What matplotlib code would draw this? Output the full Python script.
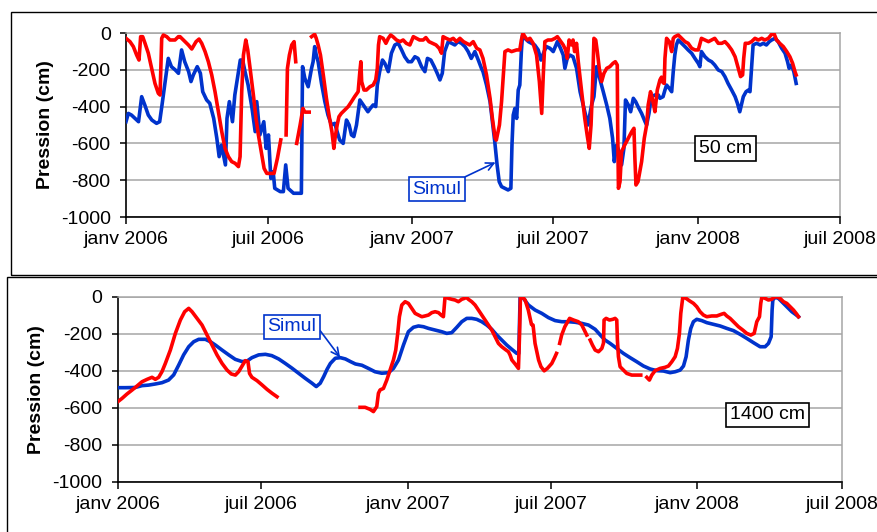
import numpy as np
import matplotlib
matplotlib.use("Agg")
import matplotlib.pyplot as plt
from matplotlib.patches import Rectangle

plt.rcParams['font.family'] = ['Liberation Sans', 'DejaVu Sans']
plt.rcParams['axes.unicode_minus'] = False

nan = np.nan

# x = days since 1 Jan 2006
tick_days = [0, 181, 365, 546, 730, 912]
tick_labels = ["janv 2006", "juil 2006", "janv 2007", "juil 2007", "janv 2008", "juil 2008"]
y_ticks = [-1000, -800, -600, -400, -200, 0]
y_labels = ["-1000", "-800", "-600", "-400", "-200", "0"]

# ---- 50 cm: simulated (blue)
sim50_days = [0, 3, 7, 11.5, 16, 20, 24, 28.5, 33, 39, 43, 46, 50, 54, 58, 63, 67, 71, 75, 80, 83, 86, 91, 95, 98,
              103, 107, 112, 116, 119, 122, 127, 129, 132, 136, 139, 141, 146, 149, 152, 156, 161, 165, 167, 171,
              176, 179, 182, 185, 188, 190, 197, 201, 204, 207, 214, 222, 224, 225.5, 228.4, 232.7, 237, 239, 241,
              243, 245.4, 249.7, 254, 258, 262.5, 266.7, 269.7, 273, 277.4, 281.6, 285, 288, 291, 294.4, 298.7, 303,
              306, 309, 312, 315.7, 319, 321, 324, 327.6, 330.6, 335, 339, 343.4, 347.7, 352, 356, 360.5, 364.7,
              369, 373, 377.5, 381.8, 385, 389.4, 393.7, 397.5, 401, 404, 407, 411.6, 416, 420, 424, 428.6, 433,
              437, 441, 445.6, 450, 454, 456, 460.5, 465, 468, 471, 474, 476.7, 479.7, 484, 488, 491.6, 493, 494.6,
              496.7, 499, 501, 503, 505, 506.5, 509.5, 514, 518, 522, 526.5, 530, 534, 537, 541.5, 545.7, 551, 555,
              558.5, 560.6, 563.6, 567, 571, 575.5, 580, 584, 588, 590, 594.7, 597.7, 601, 605, 609.6, 614, 618,
              621.5, 623.7, 626.7, 630, 633, 636, 638, 641.6, 644.6, 648, 651, 654, 658.6, 663, 665, 668, 671,
              675.6, 680, 682, 686, 688.4, 690.5, 694, 697, 699, 701, 703, 705.4, 709.7, 714, 718, 722.5, 726.7,
              731, 733, 735, 739.5, 744, 748, 752, 756.5, 761, 765, 769, 773.6, 778, 781, 784, 786, 788.5, 792,
              795, 797, 799, 801, 805.5, 810, 814, 818, 821.7, 824.7, 829, 833, 837.5, 841.8, 845, 847, 850, 853, 856]
sim50_vals = [-482, -437, -446, -464, -482, -346, -391, -446, -473, -491, -482, -391, -264, -138, -183, -201, -219,
              -92, -156, -210, -264, -228, -183, -219, -319, -364, -382, -464, -572, -672, -609, -717, -464, -373,
              -482, -337, -283, -147, -147, -210, -283, -410, -536, -373, -554, -482, -627, -554, -790, -754, -844,
              -862, -862, -717, -844, -871, -871, -871, -183, -246, -292, -192, -156, -74, -120, -156, -274, -373,
              -446, -500, -491, -536, -582, -600, -473, -500, -554, -563, -500, -364, -391, -410, -428, -410, -391,
              -400, -283, -210, -147, -165, -210, -110, -65, -56, -92, -129, -156, -156, -129, -138, -183, -210,
              -138, -147, -183, -219, -255, -219, -101, -47, -56, -65, -47, -56, -74, -101, -138, -101, -147, -192,
              -210, -283, -373, -482, -590, -717, -808, -835, -844, -853, -844, -609, -446, -410, -464, -310, -283,
              -101, -11, -29, -47, -56, -65, -92, -147, -101, -74, -83, -101, -47, -83, -120, -192, -138, -120,
              -129, -192, -319, -391, -464, -500, -391, -346, -183, -246, -319, -391, -464, -572, -699, -609, -645,
              -717, -627, -364, -391, -428, -355, -373, -400, -437, -482, -500, -437, -346, -337, -337, -355, -346,
              -310, -283, -301, -319, -210, -120, -65, -38, -56, -74, -92, -110, -138, -165, -183, -101, -129, -147,
              -156, -174, -201, -210, -237, -274, -310, -346, -382, -428, -391, -346, -319, -310, -319, -192, -65,
              -56, -65, -56, -65, -47, -38, -29, -47, -83, -110, -156, -192, -174, -210, -274]

# ---- 50 cm: measured (red), NaN = gap
obs50_days = [0, 5.1, 9.4, 13.6, 16.6, 18.7, 21.3, 24.3, 28.5, 32.8, 37, 41.3, 43.5, 45.6, 47.7, 52, 56.2, 62.6,
              66.9, 69, 73.3, 79.7, 84, 89.5, 93.3, 96.7, 101, 105.2, 109.5, 113.7, 118, 122.3, 126.5, 130.8, 135,
              139.3, 143.6, 145.7, 147.8, 150, 153, 155.5, 158.5, 162.7, 166.1, 169.1, 173.4, 176.4, 179.8, 186.2,
              189.1, 193.4, 197.7, 201,
              204.5, 206.2, 208.7, 211.7, 214.7, 216.8, 217.4,
              218, 222.4, 226, 228.5, 234, 235.5,
              237, 241, 243, 245.4, 248.4, 252, 256, 260, 263, 265.5, 267, 269.7, 272, 275, 279.5, 283.8, 288, 292,
              296.5, 298.7, 300, 301, 304, 307, 311.5, 315.7, 319, 321, 322.5, 324, 328.5, 332, 335, 338, 341,
              345.5, 350, 354, 358, 362.6, 367, 371, 375, 379.6, 383, 387, 391.5, 396, 400, 403, 405, 409, 413.7,
              418, 422, 426.5, 431, 435, 439, 443.5, 448, 452, 456, 460.5, 465, 468, 471.5, 473, 477, 479.7, 482,
              484, 488, 492.5, 499, 503, 505, 507, 509.5, 512.5, 516, 520, 524.4, 528, 531, 533, 535, 539, 543.6,
              548, 551, 554, 558.5, 561.5, 563.6, 566, 569, 571, 573, 575.5, 577.7, 582, 586, 589, 591.7, 594, 596,
              597.7, 600, 602, 604.5, 607.5, 610.5, 614, 618, 622, 625, 627.5, 628, 629, 631, 633, 637, 641.6, 646,
              648.8, 650, 651.4, 654, 658.6, 662, 665, 667, 670, 672.7, 675.6, 678.6, 682, 684, 686, 687.5, 688.4,
              690.5, 694, 697, 699, 701, 705.4, 709.7, 714, 718, 722.5, 726.7, 731, 735, 739.5, 744, 748, 752,
              756.5, 761, 765, 769, 773.6, 778, 782, 785, 787.6, 789, 791, 795, 799, 803.4, 807.7, 812, 816, 820.5,
              824.7, 827.6, 831, 835, 839.6, 844, 848, 851.5, 854.5, 856]
obs50_vals = [-29, -47, -74, -120, -147, -20, -20, -56, -110, -192, -274, -328, -337, -29, -11, -20, -38, -38, -20,
              -20, -38, -65, -87, -47, -33, -56, -101, -156, -228, -319, -428, -536, -627, -672, -699, -708, -726,
              -672, -319, -120, -38, -92, -192, -337, -464, -554, -663, -736, -763, -763, -763, -681, -581, nan,
              -554, -192, -120, -65, -47, -156, nan,
              -600, -500, -410, -430, -430, nan,
              -20, -7, -29, -65, -120, -228, -355, -464, -536, -627, -572, -500, -455, -437, -418, -400, -373, -346,
              -319, -210, -156, -264, -310, -310, -292, -283, -255, -192, -65, -20, -29, -56, -29, -11, -20, -38,
              -47, -38, -56, -65, -20, -29, -38, -38, -25, -47, -56, -65, -83, -110, -20, -29, -38, -29, -47, -29,
              -47, -56, -65, -47, -83, -92, -138, -228, -355, -464, -572, -582, -500, -373, -228, -101, -92, -101,
              -92, -92, -38, -2, -20, -38, -29, -56, -120, -264, -437, -228, -47, -38, -38, -29, -20, -38, -65, -92,
              -138, -38, -65, -38, -101, -56, -156, -319, -464, -554, -627, -500, -283, -29, -38, -101, -192, -264,
              -219, -192, -183, -165, -156, -174, -500, -844, -808, -645, -609, -572, -536, -518, -681, -826, -808,
              -699, -572, -500, -391, -319, -364, -428, -310, -255, -240, -270, -274, -138, -29, -47, -101, -29, -20,
              -11, -29, -47, -56, -83, -92, -92, -29, -38, -47, -38, -29, -56, -56, -47, -65, -92, -129, -192, -237,
              -228, -138, -56, -56, -47, -29, -38, -29, -38, -29, -7, -2, -38, -56, -74, -101, -129, -165, -210, -228]

# ---- 1400 cm: simulated (blue)
sim1400_days = [0, 9.6, 22, 30.6, 39, 47.4, 55.8, 64, 70.5, 76.8, 83, 89.4, 95.7, 102, 110.4, 116.7, 123, 131.4,
                139.8, 148, 156.5, 163, 169, 177.5, 186, 194, 202.7, 211, 219.5, 228, 236, 244.7, 250, 255, 259.4,
                263.6, 267.8, 274, 280.4, 286.7, 293, 299.3, 307.5, 315.7, 324, 332.5, 340.9, 347.2, 353.5, 359.8,
                366, 372.4, 378.7, 385, 391.3, 399.7, 408, 414.3, 420.6, 427, 433.2, 439.5, 445.8, 452, 458.4,
                464.7, 471, 477.3, 483.6, 489.9, 496.2, 502.5, 505, 506.7, 510.9, 517.2, 525.6, 534, 542.4, 550.8,
                559.2, 567.6, 576, 584.4, 592.8, 601.2, 609.6, 613.7, 620, 628.4, 636.8, 645.2, 653.6, 662, 670.4,
                678.8, 687.2, 695.6, 701.9, 708.2, 712.4, 715.7, 718.6, 721.6, 724.9, 729.1, 735.4, 741.7, 750.1,
                758.5, 766.9, 775.3, 783.7, 792.1, 800.5, 808.9, 815.2, 819.4, 822.8, 824, 824.9, 827.8, 832, 836.2,
                840.4, 844.6, 848.8, 853, 857.2]
sim1400_vals = [-491, -491, -490, -480, -477, -471, -464, -450, -422, -369, -314, -270, -243, -230, -230, -243, -261,
                -288, -314, -338, -350, -347, -329, -314, -311, -318, -336, -360, -386, -414, -440, -467, -485, -467,
                -431, -392, -360, -332, -329, -336, -350, -363, -370, -387, -405, -413, -410, -387, -342, -261, -189,
                -165, -158, -162, -171, -180, -189, -198, -194, -165, -135, -117, -117, -122, -135, -153, -176, -207,
                -234, -261, -284, -306, -306, -3, -9, -45, -72, -90, -113, -129, -135, -135, -138, -144, -153, -176,
                -216, -234, -252, -279, -306, -329, -351, -374, -390, -399, -401, -410, -405, -396, -374, -324, -234,
                -171, -135, -122, -129, -140, -149, -158, -171, -183, -203, -225, -248, -270, -270, -252, -216, -72,
                -18, -3, -9, -27, -45, -63, -81, -94, -108]

# ---- 1400 cm: measured (red), NaN = gap
obs1400_days = [0, 5.4, 11.7, 18, 24.3, 30.6, 37, 43.2, 47.4, 51.6, 55.8, 60, 66.3, 72.6, 78.9, 84.3, 89.4, 93.6,
                99.9, 106.2, 112.5, 118.8, 125, 131.4, 137.7, 143, 148.2, 152.4, 157.4, 160.7, 164, 166, 169, 175.4,
                181.7, 188, 194.3, 200.6, 250,
                305.2, 311.5, 317.8, 322, 326.2, 328.3, 330.4, 334.6, 338.8, 343, 347.2, 350.1, 352.6, 354.7, 357.7,
                361.9, 366, 370.3, 374.5, 378.7, 382.9, 387, 391.3, 395.5, 399.7, 403.9, 407.2, 410.1, 412.2, 416.4,
                420.6, 424.8, 429, 433.2, 436.6, 438.3, 441.6, 445.8, 450, 454.2, 458.4, 462.6, 466.8, 471, 475.2,
                479.4, 483.6, 487.8, 492, 494.1, 496.2, 500.4, 504.6, 505.9, 507.1, 509.6, 513, 517, 521, 523, 525.5,
                530, 533, 537, 541, 546.6, 550, 552.5, 554.5,
                556.5, 559, 563, 569, 574, 580, 584.4, 588.5, 590.6, 592.5,
                594.9, 597.8, 601.2, 605.4, 609.6, 611.7, 612.4, 615, 619.2, 623.4, 626.3, 628.4, 629.2, 630.5,
                632.6, 636.8, 641, 647.3, 653.6, 658.6, 662,
                666.2, 669.5, 672.5, 676.7, 683, 689.3, 693.5, 697.7, 701.9, 704.8, 707.3, 709, 711.5, 715.7, 719.9,
                725, 729.1, 733.3, 737.5, 741.7, 748, 754.3, 760.6, 763.6, 766.9, 771.1, 775.3, 781.6, 787.1, 792.1,
                797.2, 801.4, 804.7, 808.1, 809.7, 811, 815.2, 819.4, 823.6, 826.5, 829.9, 834, 838.3, 842.5, 846.7,
                850.9, 855, 857.2]
obs1400_vals = [-567, -549, -525, -504, -482, -459, -446, -435, -446, -435, -404, -360, -288, -198, -126, -81, -63,
                -81, -117, -153, -207, -261, -314, -360, -396, -417, -423, -404, -369, -345, -350, -414, -435, -453,
                -476, -500, -521, -540, nan,
                -597, -597, -608, -620, -593, -521, -503, -495, -450, -395, -341, -288, -198, -108, -45, -27, -36,
                -63, -90, -99, -108, -104, -99, -86, -81, -86, -99, -108, 0, -9, -14, -18, -27, -14, -9, 0, -14, -27,
                -45, -72, -99, -126, -153, -180, -216, -252, -270, -284, -297, -315, -341, -363, -387, -216, -3, 0,
                -18, -72, -150, -153, -252, -342, -378, -400, -387, -360, -330, -306, nan,
                -252, -207, -162, -117, -126, -135, -153, -189, -207, nan,
                -234, -261, -288, -297, -279, -250, -126, -117, -126, -122, -117, -126, -234, -324, -378, -396, -414,
                -423, -423, -423, nan,
                -435, -450, -423, -399, -387, -381, -374, -351, -324, -279, -198, -90, -3, -9, -22, -36, -54, -81,
                -99, -108, -104, -104, -94, -90, -104, -117, -135, -162, -180, -198, -207, -198, -135, -108, -36, -3,
                -9, -18, -14, -3, 0, -9, -27, -36, -54, -72, -94, -108]

BLUE = '#0033CC'
RED = '#FF0000'
GRID = '#A6A6A6'
LW = 2.6

fig = plt.figure(figsize=(8.78, 5.32), dpi=100)

# outer chart frames
fig.add_artist(Rectangle((11 / 878, 1 - 274.5 / 532), 1.2, (274.5 - 12) / 532, transform=fig.transFigure,
                         fill=False, edgecolor='black', lw=1.0))
fig.add_artist(Rectangle((7.3 / 878, -0.2), 1.2, 1 - 276.8 / 532 + 0.2, transform=fig.transFigure,
                         fill=False, edgecolor='black', lw=1.0))

ax1 = fig.add_axes([126 / 878, 1 - 217 / 532, (840 - 126) / 878, 184 / 532])
ax2 = fig.add_axes([117.7 / 878, 1 - 482 / 532, (842 - 117.7) / 878, 185.3 / 532])


def style(ax, ylab_x):
    ax.set_xlim(0, 912)
    ax.set_ylim(-1000, 0)
    ax.set_xticks(tick_days)
    ax.set_xticklabels(tick_labels)
    ax.set_yticks(y_ticks)
    ax.set_yticklabels(y_labels)
    ax.grid(axis='y', color=GRID, lw=1.1)
    ax.set_axisbelow(True)
    for s in ['top', 'right']:
        ax.spines[s].set_color(GRID)
        ax.spines[s].set_linewidth(1.1)
    for s in ['left', 'bottom']:
        ax.spines[s].set_color('black')
        ax.spines[s].set_linewidth(1.2)
    ax.tick_params(axis='x', direction='out', length=5, width=1.1, pad=5, labelsize=14)
    ax.tick_params(axis='y', direction='out', length=4, width=1.1, pad=7, labelsize=14)
    pos = ax.get_position()
    fig.text(ylab_x, pos.y0 + pos.height / 2, "Pression (cm)", rotation=90, ha='center', va='center',
             fontsize=14, fontweight='bold')


style(ax1, 46 / 878)
style(ax2, 37 / 878)

ax1.plot(sim50_days, sim50_vals, color=BLUE, lw=LW, solid_joinstyle='round', zorder=3)
ax1.plot(obs50_days, obs50_vals, color=RED, lw=LW, solid_joinstyle='round', zorder=4)
ax2.plot(sim1400_days, sim1400_vals, color=BLUE, lw=LW, solid_joinstyle='round', zorder=3)
ax2.plot(obs1400_days, obs1400_vals, color=RED, lw=LW, solid_joinstyle='round', zorder=4)

ax1.annotate("Simul", xy=(472, -703), xytext=(397, -848), color=BLUE, fontsize=14, ha='center', va='center',
             bbox=dict(boxstyle='square,pad=0.18', fc='white', ec=BLUE, lw=1.2),
             arrowprops=dict(arrowstyle='->', color=BLUE, lw=1.2, mutation_scale=14, shrinkA=0, shrinkB=0,
                             relpos=(0.92, 1.0)), zorder=6)
ax2.annotate("Simul", xy=(280, -327), xytext=(219, -163), color=BLUE, fontsize=14, ha='center', va='center',
             bbox=dict(boxstyle='square,pad=0.18', fc='white', ec=BLUE, lw=1.2),
             arrowprops=dict(arrowstyle='->', color=BLUE, lw=1.2, mutation_scale=14, shrinkA=0, shrinkB=0,
                             relpos=(1.0, 0.6)), zorder=6)

ax1.text(765.6, -628, "50 cm", fontsize=14, ha='center', va='center', color='black',
         bbox=dict(boxstyle='square,pad=0.2', fc='white', ec='black', lw=1.2), zorder=6)
ax2.text(818.4, -638, "1400 cm", fontsize=14, ha='center', va='center', color='black',
         bbox=dict(boxstyle='square,pad=0.2', fc='white', ec='black', lw=1.2), zorder=6)

fig.savefig("out.png", dpi=100)
